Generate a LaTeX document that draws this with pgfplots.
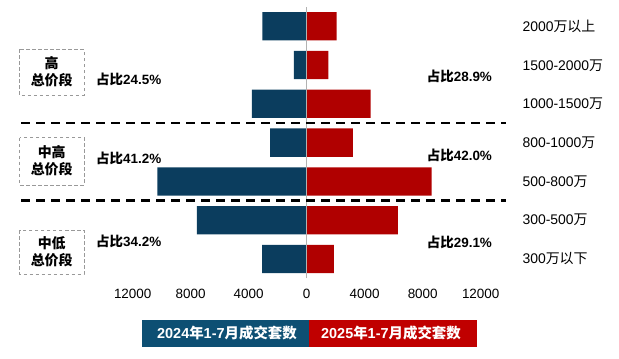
\documentclass[border=0pt]{standalone}
\usepackage{pgfplots}
\pgfplotsset{compat=1.18}
\usepackage{fontspec}
\setmainfont{Liberation Sans}
\newfontfamily\cjk{Noto Sans CJK SC}
\definecolor{bblue}{HTML}{0B3D5E}
\definecolor{rred}{HTML}{B00000}
\definecolor{lblue}{HTML}{0D4F73}
\definecolor{lred}{HTML}{C00000}
\newcommand\fs[1]{\fontsize{#1}{#1}\selectfont}
\begin{document}
\begin{tikzpicture}
\begin{scope}[x=1bp,y=1bp]
\path[use as bounding box] (0,0) rectangle (619,358);
\end{scope}
\begin{axis}[at={(132.7bp,79.6bp)}, anchor=south west, scale only axis,
  width=348bp, height=271.6bp,
  xmin=-12000, xmax=12000, ymin=-0.5, ymax=6.5,
  scaled x ticks=false,
  axis line style={draw=none}, major tick length=0pt, ytick=\empty,
  xtick={-12000,-8000,-4000,0,4000,8000,12000},
  xticklabels={12000,8000,4000,0,4000,8000,12000},
  xticklabel style={font=\fs{13.5}, yshift=-7bp},
  xbar, bar width=28.3bp, bar shift=0pt, clip=false]
\addplot[fill=bblue, draw=none] coordinates {(-3060,6) (-880,5) (-3790,4) (-2530,3) (-10300,2) (-7570,1) (-3080,0)};
\addplot[fill=rred, draw=none] coordinates {(2070,6) (1490,5) (4410,4) (3190,3) (8620,2) (6280,1) (1880,0)};
\draw[black!30, line width=1bp] (axis cs:0,-0.5) -- (axis cs:0,6.5);
\end{axis}
\begin{scope}[x=1bp,y=1bp]
% separators
\draw[black, line width=2.2bp, dash pattern=on 9bp off 6bp] (21,234.7) -- (506,234.7);
\draw[black, line width=2.2bp, dash pattern=on 9bp off 6bp] (21,157.5) -- (506,157.5);
% category labels
\foreach \yy/\lab in {331.5/{2000{\cjk 万以上}}, 292.7/{1500-2000{\cjk 万}}, 254/{1000-1500{\cjk 万}}, 215/{800-1000{\cjk 万}}, 176.5/{500-800{\cjk 万}}, 138/{300-500{\cjk 万}}, 99/{300{\cjk 万以下}}}
  \node[anchor=west, inner sep=0pt, font=\fs{14}] at (522.3,\yy) {\lab};
% share labels
\node[anchor=west, inner sep=0pt, font=\bfseries\fs{13.5}] at (96,278.7) {{\cjk 占比}24.5\%};
\node[anchor=west, inner sep=0pt, font=\bfseries\fs{13.5}] at (96,199.7) {{\cjk 占比}41.2\%};
\node[anchor=west, inner sep=0pt, font=\bfseries\fs{13.5}] at (96,116.3) {{\cjk 占比}34.2\%};
\node[anchor=west, inner sep=0pt, font=\bfseries\fs{13.5}] at (426.7,281.3) {{\cjk 占比}28.9\%};
\node[anchor=west, inner sep=0pt, font=\bfseries\fs{13.5}] at (426.7,203) {{\cjk 占比}42.0\%};
\node[anchor=west, inner sep=0pt, font=\bfseries\fs{13.5}] at (426.7,115.3) {{\cjk 占比}29.1\%};
% group boxes
\draw[black!40, line width=0.9bp, dash pattern=on 3.5bp off 2.5bp] (19.5,308.7) rectangle (84,263);
\draw[black!40, line width=0.9bp, dash pattern=on 3.5bp off 2.5bp] (19.5,220.3) rectangle (84,173);
\draw[black!40, line width=0.9bp, dash pattern=on 3.5bp off 2.5bp] (19.5,128) rectangle (84,84);
\node[align=center, inner sep=0pt, font=\cjk\bfseries\fontsize{14}{16.7}\selectfont] at (51.7,286) {高\\总价段};
\node[align=center, inner sep=0pt, font=\cjk\bfseries\fontsize{14}{16.7}\selectfont] at (51.7,197) {中高\\总价段};
\node[align=center, inner sep=0pt, font=\cjk\bfseries\fontsize{14}{16.7}\selectfont] at (51.7,106) {中低\\总价段};
% legend
\fill[lblue] (141.7,11.3) rectangle (309.3,38);
\fill[lred] (309.3,11.3) rectangle (476.7,38);
\node[text=white, inner sep=0pt, font=\bfseries\fs{14.5}] at (227,24.6) {2024{\cjk 年}1-7{\cjk 月成交套数}};
\node[text=white, inner sep=0pt, font=\bfseries\fs{14.5}] at (391,24.6) {2025{\cjk 年}1-7{\cjk 月成交套数}};
\end{scope}
\end{tikzpicture}
\end{document}
